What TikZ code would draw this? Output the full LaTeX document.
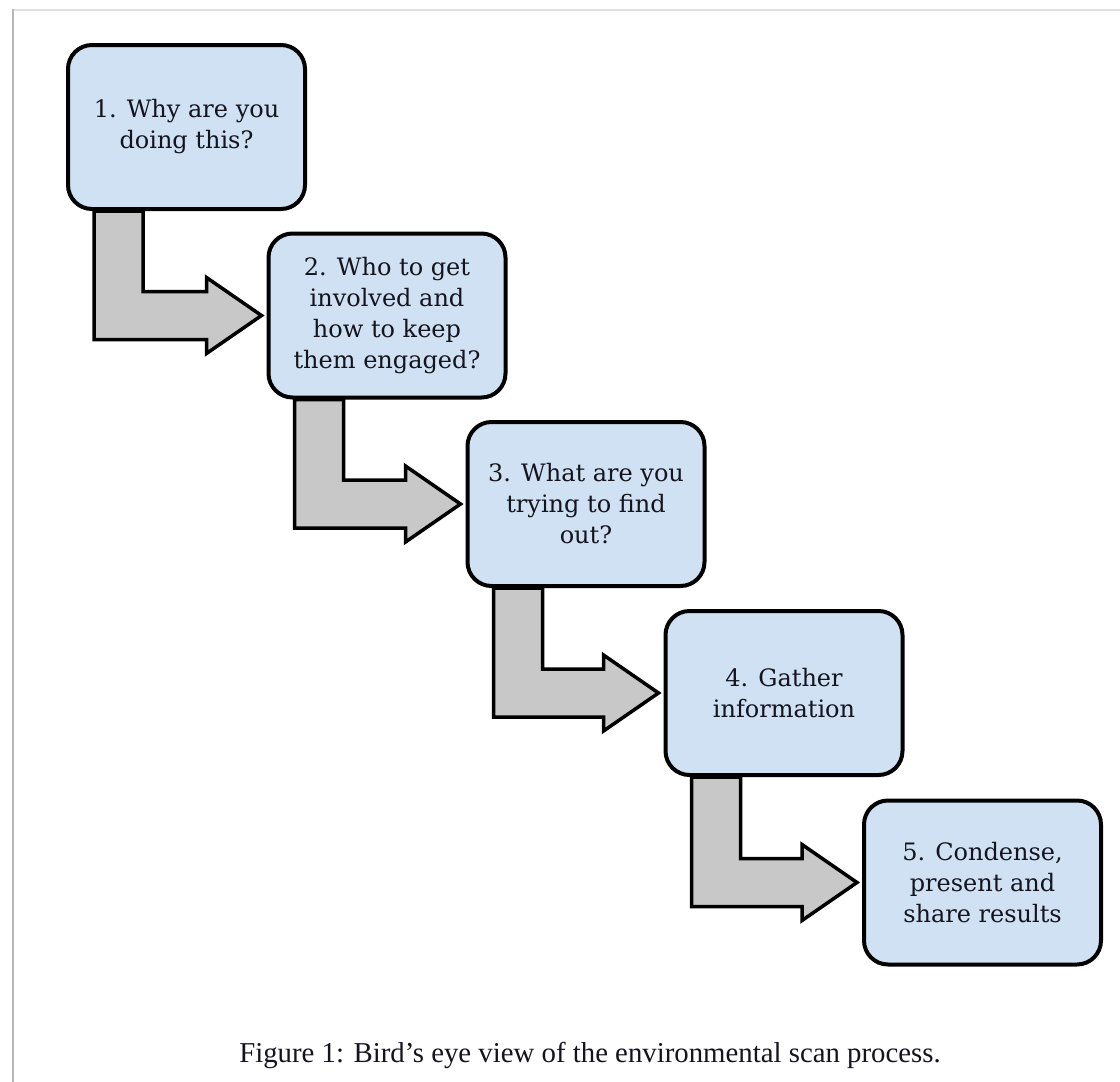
\documentclass[tikz,border=0pt]{standalone}
\usepackage{fontspec}
\setmainfont{DejaVu Serif}
\newfontfamily\capfont{Liberation Serif}
\usetikzlibrary{calc,backgrounds}
\definecolor{boxblue}{RGB}{207,225,243}
\definecolor{arrowgray}{RGB}{200,200,200}
\definecolor{inktext}{RGB}{20,20,30}
\newcommand{\bentarrow}[2]{%
  \draw[bentstyle] ($(#1.south west)+(28,0)$) |- ($(#2.west)+(-60,24)$)
    -- ++(0,14) -- ($(#2.west)+(-5,0)$) -- ($(#2.west)+(-60,-38)$)
    -- ++(0,14) -| ($(#1.south west)+(77,0)$) -- cycle;}
\begin{document}
\begin{tikzpicture}[x=1pt,y=-1pt,
  stepbox/.style={draw=black, line width=4pt, fill=boxblue, rounded corners=24pt,
    minimum width=237pt, minimum height=164pt, inner sep=0pt, align=center,
    text=inktext, font=\fontsize{24}{31}\selectfont},
  bentstyle/.style={draw=black, line width=3.5pt, fill=arrowgray, line join=miter}]
\useasboundingbox (0,0) rectangle (1120,1082);

\node[stepbox] (b1) at (186.5,127) {1. Why are you\\doing this?};
\node[stepbox] (b2) at (387,315.5) {2. Who to get\\involved and\\how to keep\\them engaged?};
\node[stepbox] (b3) at (586,504) {3. What are you\\trying to find\\out?};
\node[stepbox] (b4) at (784,693) {4. Gather\\information};
\node[stepbox] (b5) at (982.5,882.5) {5. Condense,\\present and\\share results};

\node[font=\capfont\fontsize{28.8}{32}\selectfont, text=inktext] (cap) at (590,1055)
  {Figure 1: Bird’s eye view of the environmental scan process.};

\begin{scope}[on background layer]
  \fill[white] (0,0) rectangle (1120,1082);
  \draw[black!12, line width=2pt] (13,10) -- (1120,10);
  \draw[black!28, line width=2.5pt] (13,1082) -- (13,9);
  \bentarrow{b1}{b2}
  \bentarrow{b2}{b3}
  \bentarrow{b3}{b4}
  \bentarrow{b4}{b5}
\end{scope}
\end{tikzpicture}
\end{document}
